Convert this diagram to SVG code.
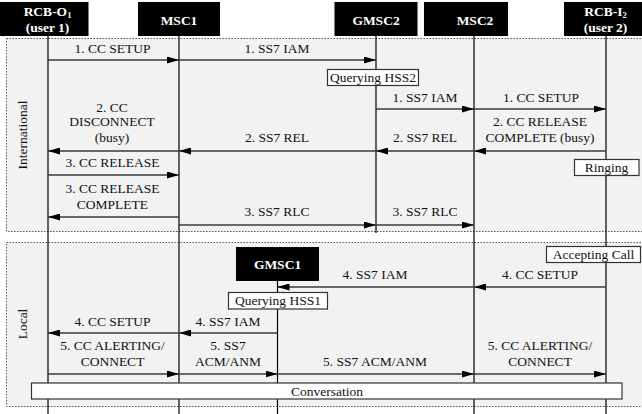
<svg xmlns="http://www.w3.org/2000/svg" width="642" height="414" viewBox="0 0 642 414">
<style>
.frame{fill:#f2f2f2;stroke:#555;stroke-width:1;stroke-dasharray:1.5 1.5}
.hdr{fill:#000}
.ht{font-family:'Liberation Serif','Times New Roman',Tinos,serif;font-weight:bold;font-size:13.5px;fill:#fff;text-anchor:middle}
.life{stroke:#000;stroke-width:1.2;fill:none}
.msg{stroke:#3a3a3a;stroke-width:1.5;fill:none;marker-end:url(#ah)}
.t{font-family:'Liberation Serif','Times New Roman',Tinos,serif;font-size:13.5px;fill:#111;text-anchor:middle}
.box{fill:#fff;stroke:#333;stroke-width:1.2}
</style>
<defs>
<marker id="ah" viewBox="0 0 12 7" markerWidth="12" markerHeight="7" markerUnits="userSpaceOnUse" refX="12" refY="3.5" orient="auto">
<path d="M0,0 L12,3.5 L0,7 z" fill="#000"/>
</marker>
</defs>

<g id="frames" font-family="Liberation Serif, serif">
<rect class="frame" x="6.5" y="38.5" width="640" height="193"/>
<rect class="frame" x="6.5" y="242.5" width="640" height="164"/>
<text class="t" font-family="Liberation Serif, serif" transform="translate(27,135) rotate(-90)">International</text>
<text class="t" font-family="Liberation Serif, serif" transform="translate(27,324) rotate(-90)">Local</text>
</g>

<g id="lifelines">
<line class="life" x1="48" y1="36" x2="48" y2="414"/>
<line class="life" x1="179" y1="36" x2="179" y2="414"/>
<line class="life" x1="376" y1="36" x2="376" y2="233"/>
<line class="life" x1="474" y1="36" x2="474" y2="414"/>
<line class="life" x1="606" y1="36" x2="606" y2="414"/>
<line class="life" x1="277.5" y1="281" x2="277.5" y2="414"/>
</g>

<g id="node-rcbo1">
<rect class="hdr" x="-8" y="2" width="96.5" height="34"/>
<text class="ht" font-family="Liberation Serif, serif" x="47.5" y="16">RCB-O<tspan font-size="8.5" dy="2">1</tspan></text>
<text class="ht" font-family="Liberation Serif, serif" x="47.5" y="32">(user 1)</text>
</g>
<g id="node-msc1">
<rect class="hdr" x="138" y="2" width="82" height="34"/>
<text class="ht" font-family="Liberation Serif, serif" x="179" y="25">MSC1</text>
</g>
<g id="node-gmsc2">
<rect class="hdr" x="334.5" y="2" width="83" height="34"/>
<text class="ht" font-family="Liberation Serif, serif" x="376" y="25">GMSC2</text>
</g>
<g id="node-msc2">
<rect class="hdr" x="424" y="2" width="84" height="34"/>
<text class="ht" font-family="Liberation Serif, serif" x="475" y="25">MSC2</text>
</g>
<g id="node-rcbi2">
<rect class="hdr" x="564" y="2" width="84" height="34"/>
<text class="ht" font-family="Liberation Serif, serif" x="605.5" y="16">RCB-I<tspan font-size="8.5" dy="2">2</tspan></text>
<text class="ht" font-family="Liberation Serif, serif" x="605.5" y="32">(user 2)</text>
</g>
<g id="node-gmsc1">
<rect class="hdr" x="236" y="247" width="83" height="34"/>
<text class="ht" font-family="Liberation Serif, serif" x="277.5" y="269">GMSC1</text>
</g>

<g id="connectors">
<line class="msg" x1="48" y1="60" x2="179" y2="60"/>
<line class="msg" x1="179" y1="60" x2="376" y2="60"/>
<line class="msg" x1="376" y1="109" x2="474" y2="109"/>
<line class="msg" x1="474" y1="109" x2="606" y2="109"/>
<line class="msg" x1="606" y1="151" x2="474" y2="151"/>
<line class="msg" x1="474" y1="151" x2="376" y2="151"/>
<line class="msg" x1="376" y1="151" x2="179" y2="151"/>
<line class="msg" x1="179" y1="151" x2="48" y2="151"/>
<line class="msg" x1="48" y1="175" x2="179" y2="175"/>
<line class="msg" x1="179" y1="217" x2="48" y2="217"/>
<line class="msg" x1="179" y1="225" x2="376" y2="225"/>
<line class="msg" x1="376" y1="225" x2="474" y2="225"/>
<line class="msg" x1="606" y1="287" x2="474" y2="287"/>
<line class="msg" x1="474" y1="287" x2="277.5" y2="287"/>
<line class="msg" x1="277.5" y1="333" x2="179" y2="333"/>
<line class="msg" x1="179" y1="333" x2="48" y2="333"/>
<line class="msg" x1="48" y1="374" x2="179" y2="374"/>
<line class="msg" x1="179" y1="374" x2="277.5" y2="374"/>
<line class="msg" x1="277.5" y1="374" x2="474" y2="374"/>
<line class="msg" x1="474" y1="374" x2="606" y2="374"/>
</g>

<g id="labels" font-family="Liberation Serif, serif">
<text class="t" font-family="Liberation Serif, serif" x="112.5" y="53">1. CC SETUP</text>
<text class="t" font-family="Liberation Serif, serif" x="277" y="53">1. SS7 IAM</text>
<text class="t" font-family="Liberation Serif, serif" x="425" y="101.5">1. SS7 IAM</text>
<text class="t" font-family="Liberation Serif, serif" x="541" y="101.5">1. CC SETUP</text>
<text class="t" font-family="Liberation Serif, serif" x="540" y="126">2. CC RELEASE</text>
<text class="t" font-family="Liberation Serif, serif" x="540" y="142">COMPLETE (busy)</text>
<text class="t" font-family="Liberation Serif, serif" x="425" y="142">2. SS7 REL</text>
<text class="t" font-family="Liberation Serif, serif" x="277" y="142">2. SS7 REL</text>
<text class="t" font-family="Liberation Serif, serif" x="112" y="111.5">2. CC</text>
<text class="t" font-family="Liberation Serif, serif" x="112" y="126">DISCONNECT</text>
<text class="t" font-family="Liberation Serif, serif" x="112" y="141.5">(busy)</text>
<text class="t" font-family="Liberation Serif, serif" x="112.5" y="167">3. CC RELEASE</text>
<text class="t" font-family="Liberation Serif, serif" x="112.5" y="193">3. CC RELEASE</text>
<text class="t" font-family="Liberation Serif, serif" x="112.5" y="208.5">COMPLETE</text>
<text class="t" font-family="Liberation Serif, serif" x="277" y="216">3. SS7 RLC</text>
<text class="t" font-family="Liberation Serif, serif" x="425" y="216">3. SS7 RLC</text>
<text class="t" font-family="Liberation Serif, serif" x="375" y="279">4. SS7 IAM</text>
<text class="t" font-family="Liberation Serif, serif" x="540" y="279">4. CC SETUP</text>
<text class="t" font-family="Liberation Serif, serif" x="228" y="326">4. SS7 IAM</text>
<text class="t" font-family="Liberation Serif, serif" x="112.5" y="326">4. CC SETUP</text>
<text class="t" font-family="Liberation Serif, serif" x="112.5" y="350">5. CC ALERTING/</text>
<text class="t" font-family="Liberation Serif, serif" x="112.5" y="366">CONNECT</text>
<text class="t" font-family="Liberation Serif, serif" x="228" y="350">5. SS7</text>
<text class="t" font-family="Liberation Serif, serif" x="228" y="366">ACM/ANM</text>
<text class="t" font-family="Liberation Serif, serif" x="375" y="366">5. SS7 ACM/ANM</text>
<text class="t" font-family="Liberation Serif, serif" x="540" y="350">5. CC ALERTING/</text>
<text class="t" font-family="Liberation Serif, serif" x="540" y="366">CONNECT</text>
</g>

<g id="node-querying-hss2">
<rect class="box" x="327.5" y="69.5" width="91" height="16"/>
<text class="t" font-family="Liberation Serif, serif" x="373" y="82">Querying HSS2</text>
</g>
<g id="node-ringing">
<rect class="box" x="574.5" y="159.5" width="64.5" height="16"/>
<text class="t" font-family="Liberation Serif, serif" x="606.5" y="172">Ringing</text>
</g>
<g id="node-accepting-call">
<rect class="box" x="546.5" y="246.5" width="94" height="16"/>
<text class="t" font-family="Liberation Serif, serif" x="593.5" y="259">Accepting Call</text>
</g>
<g id="node-querying-hss1">
<rect class="box" x="228.5" y="292.5" width="99" height="16.5"/>
<text class="t" font-family="Liberation Serif, serif" x="278" y="305">Querying HSS1</text>
</g>
<g id="node-conversation">
<rect class="box" x="31.5" y="383" width="590.5" height="16"/>
<text class="t" font-family="Liberation Serif, serif" x="327" y="395.5">Conversation</text>
</g>
</svg>
